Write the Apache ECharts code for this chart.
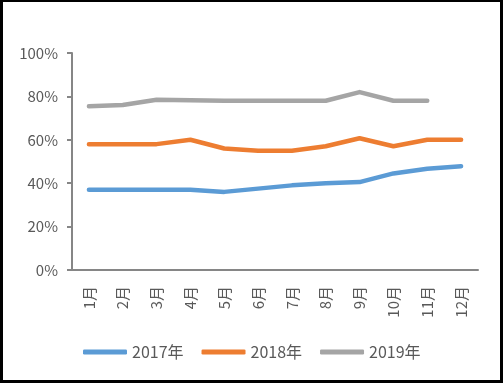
<!DOCTYPE html>
<html><head><meta charset="utf-8">
<script src="https://cdn.jsdelivr.net/npm/echarts@6/dist/echarts.min.js"></script>
<style>
html,body{margin:0;padding:0;background:#fff;}
#wrap{position:absolute;left:0;top:0;width:503px;height:383px;box-sizing:border-box;border:3px solid #000;border-top-width:2px;}
#c{position:absolute;left:0;top:0;width:503px;height:383px;}
</style></head>
<body>
<div id="c"></div>
<div id="wrap"></div>
<script>
const months = ['1月','2月','3月','4月','5月','6月','7月','8月','9月','10月','11月','12月'];
const s2017 = [0.37,0.37,0.37,0.37,0.36,0.375,0.39,0.40,0.405,0.445,0.467,0.478];
const s2018 = [0.58,0.58,0.58,0.60,0.56,0.55,0.55,0.57,0.607,0.57,0.60,0.60];
const s2019 = [0.755,0.76,0.785,0.782,0.78,0.78,0.78,0.78,0.82,0.78,0.78];
const seriesNames = ['2017年','2018年','2019年'];
const colors = ['#5B9BD5','#ED7D31','#A5A5A5'];
const font = '"Noto Sans CJK SC", "Noto Sans", sans-serif';
const chart = echarts.init(document.getElementById('c'), null, {renderer:'canvas'});
const mk = (name, data, color) => ({
  name, type:'line', data, showSymbol:false, symbol:'none',
  lineStyle:{width:4.5, color, cap:'round', join:'round'},
  itemStyle:{color}
});
chart.setOption({
  animation:false,
  backgroundColor:'#fff',
  grid:{left:72, right:25, top:53, bottom:113},
  legend:{
    left:78, top:339, itemWidth:44, itemHeight:5, itemGap:18, icon:'roundRect',
    textStyle:{fontSize:16, color:'#595959', fontFamily:font},
    data:seriesNames
  },
  xAxis:{
    type:'category', data:months, boundaryGap:true,
    axisLine:{lineStyle:{color:'#868686', width:2}},
    axisTick:{show:false},
    axisLabel:{rotate:90, margin:16, fontSize:15, color:'#595959', fontFamily:font}
  },
  yAxis:{
    type:'value', min:0, max:1, interval:0.2,
    axisLine:{show:true, lineStyle:{color:'#868686', width:2}},
    axisTick:{show:true, inside:false, length:5, lineStyle:{color:'#868686', width:2}},
    splitLine:{show:false},
    axisLabel:{margin:14, fontSize:15, color:'#595959', fontFamily:font,
      formatter:v=>Math.round(v*100)+'%'}
  },
  series:[mk(seriesNames[0],s2017,colors[0]), mk(seriesNames[1],s2018,colors[1]), mk(seriesNames[2],s2019,colors[2])]
});
</script>
</body></html>
